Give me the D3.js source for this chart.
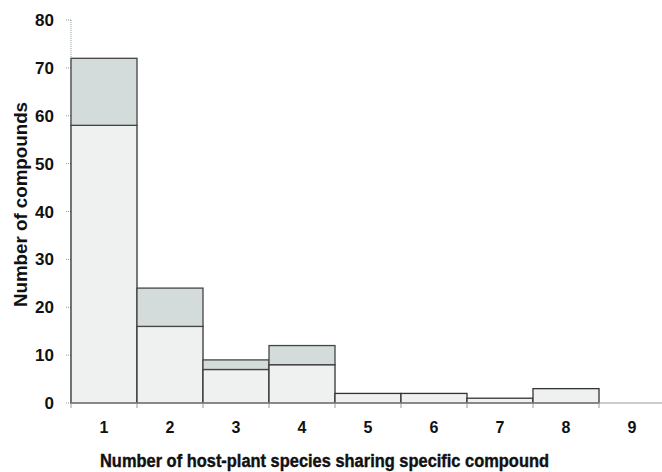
<!DOCTYPE html>
<html><head><meta charset="utf-8">
<script src="https://cdn.jsdelivr.net/npm/d3@7"></script>
<style>body{margin:0;background:#fff}</style>
</head><body>
<svg id="c" width="662" height="472"></svg>
<script>
const categories = ["1","2","3","4","5","6","7","8","9"];
const baseValues = [58, 16, 7, 8, 2, 2, 1, 3, 0];
const topValues  = [14, 8, 2, 4, 0, 0, 0, 0, 0];
const yTicks = [0,10,20,30,40,50,60,70,80];

const svg = d3.select("#c");
const mLeft = 71, mRight = 665, mTop = 20, mBottom = 403;
const x = d3.scaleBand().domain(categories).range([mLeft, mRight]).padding(0);
const y = d3.scaleLinear().domain([0, 80]).range([mBottom, mTop]);

// y axis (dotted)
svg.append("line").attr("x1", mLeft).attr("x2", mLeft).attr("y1", y(80)).attr("y2", y(0))
  .attr("stroke", "#8a9a9a").attr("stroke-width", 1).attr("stroke-dasharray", "1,1");
yTicks.forEach(t => {
  svg.append("line").attr("x1", mLeft - 5).attr("x2", mLeft).attr("y1", y(t)).attr("y2", y(t))
    .attr("stroke", "#8a9a9a").attr("stroke-dasharray", "1,1");
  svg.append("text").attr("x", 54).attr("y", y(t)).attr("dy", "0.36em").attr("text-anchor", "end")
    .attr("font-family", "Liberation Sans, Arial, sans-serif").attr("font-weight", "bold")
    .attr("font-size", 17).attr("fill", "#111").text(t);
});

// bars
const g = svg.append("g");
categories.forEach((c, i) => {
  const b = baseValues[i], t = topValues[i];
  if (b > 0) {
    g.append("rect").attr("x", x(c)).attr("width", x.bandwidth())
      .attr("y", y(b)).attr("height", y(0) - y(b))
      .attr("fill", "#eef1f0").attr("stroke", "#333").attr("stroke-width", 1.3);
  }
  if (t > 0) {
    g.append("rect").attr("x", x(c)).attr("width", x.bandwidth())
      .attr("y", y(b + t)).attr("height", y(b) - y(b + t))
      .attr("fill", "#d3dcdb").attr("stroke", "#444").attr("stroke-width", 1.3);
  }
});

// x axis
svg.append("line").attr("x1", mLeft).attr("x2", 662).attr("y1", y(0)).attr("y2", y(0))
  .attr("stroke", "#999").attr("stroke-width", 1.2);
categories.forEach((c, i) => {
  svg.append("line").attr("x1", x(c)).attr("x2", x(c)).attr("y1", y(0)).attr("y2", y(0) + 5)
    .attr("stroke", "#999");
  svg.append("text").attr("x", x(c) + x.bandwidth() / 2).attr("y", 433).attr("text-anchor", "middle")
    .attr("font-family", "Liberation Sans, Arial, sans-serif").attr("font-weight", "bold")
    .attr("font-size", 16).attr("fill", "#111").text(c);
});

// titles
svg.append("text").attr("x", 100).attr("y", 467)
  .attr("font-family", "Liberation Sans, Arial, sans-serif").attr("font-weight", "bold")
  .attr("font-size", 18).attr("textLength", 449).attr("lengthAdjust", "spacingAndGlyphs")
  .attr("fill", "#111").attr("stroke", "#111").attr("stroke-width", 0.4)
  .text("Number of host-plant species sharing specific compound");
svg.append("text").attr("transform", "translate(27,307) rotate(-90)")
  .attr("font-family", "Liberation Sans, Arial, sans-serif").attr("font-weight", "bold")
  .attr("font-size", 18).attr("textLength", 205).attr("lengthAdjust", "spacingAndGlyphs")
  .attr("fill", "#111")
  .text("Number of compounds");
</script>
</body></html>
